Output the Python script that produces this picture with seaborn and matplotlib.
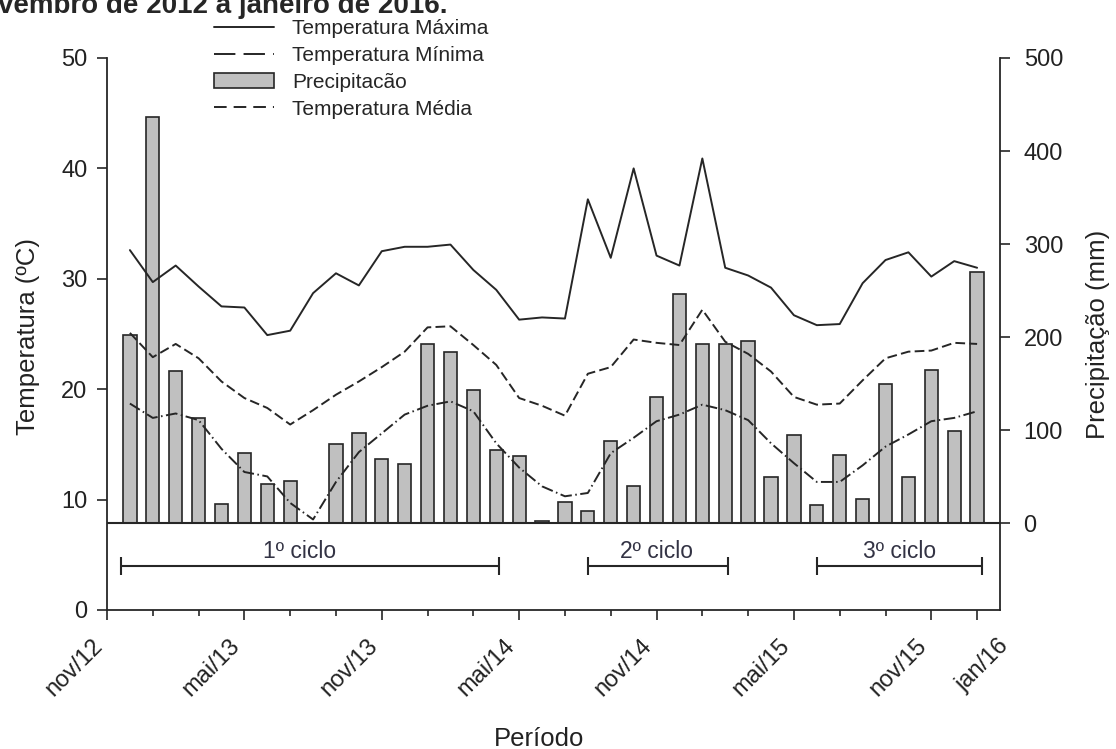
import numpy as np
import pandas as pd
import matplotlib
matplotlib.use("Agg")
import matplotlib.pyplot as plt
import matplotlib.transforms as mtransforms
from matplotlib.patches import Patch
from matplotlib.lines import Line2D
import seaborn as sns

# meses de dez/12 a jan/16 (posicao = meses desde nov/12)
meses = pd.period_range("2012-12", "2016-01", freq="M")
mes = np.arange(1, len(meses) + 1)

precip = [202, 437, 163, 113, 21, 75, 42, 45, 0, 85, 97, 69, 64,
          193, 184, 143, 79, 72, 2, 23, 13, 88, 40, 135, 246,
          192, 193, 196, 50, 95, 19, 73, 26, 149, 49, 165, 99,
          270]
t_max = [32.6, 29.7, 31.2, 29.3, 27.5, 27.4, 24.9, 25.3, 28.7, 30.5, 29.4, 32.5, 32.9,
         32.9, 33.1, 30.8, 29.0, 26.3, 26.5, 26.4, 37.2, 31.9, 40.0, 32.1, 31.2,
         40.9, 31.0, 30.3, 29.2, 26.7, 25.8, 25.9, 29.6, 31.7, 32.4, 30.2, 31.6,
         31.0]
t_med = [25.1, 22.9, 24.1, 22.8, 20.7, 19.2, 18.3, 16.8, 18.1, 19.5, 20.7, 22.0, 23.4,
         25.6, 25.7, 24.0, 22.2, 19.2, 18.5, 17.6, 21.4, 22.0, 24.5, 24.2, 24.0,
         27.2, 24.3, 23.2, 21.6, 19.3, 18.6, 18.7, 20.8, 22.8, 23.4, 23.5, 24.2,
         24.1]
t_min = [18.7, 17.4, 17.8, 17.2, 14.6, 12.5, 12.1, 9.7, 8.2, 11.6, 14.3, 16.0, 17.7,
         18.5, 18.9, 18.0, 15.1, 12.9, 11.2, 10.3, 10.6, 14.2, 15.6, 17.1, 17.7,
         18.6, 18.1, 17.2, 15.1, 13.3, 11.6, 11.6, 13.1, 14.8, 15.9, 17.1, 17.4,
         18.0]

ticks_x = [0, 6, 12, 18, 24, 30, 36, 38]
ticks_lab = ["nov/12", "mai/13", "nov/13", "mai/14", "nov/14", "mai/15", "nov/15", "jan/16"]
ticks_min = [2, 4, 8, 10, 14, 16, 20, 22, 26, 28, 32, 34]

ciclos = ["1º ciclo", "2º ciclo", "3º ciclo"]
ciclo_ini = [0.6, 21.0, 31.0]
ciclo_fim = [17.1, 27.1, 38.2]
ciclo_txt = [8.4, 24.0, 34.6]

df = pd.DataFrame({"mes": mes, "precip": precip,
                   "t_max": t_max, "t_med": t_med, "t_min": t_min})

sns.set_theme(style="ticks")
plt.rcParams["font.family"] = ["Liberation Sans", "DejaVu Sans"]
cor = "#262626"

fig = plt.figure(figsize=(11.16, 7.49), dpi=100)
ax = fig.add_axes([107 / 1116, 1 - 610 / 749, 893 / 1116, 552 / 749])
ax2 = ax.twinx()
ax.set_zorder(ax2.get_zorder() + 1)
ax.patch.set_visible(False)

# precipitacao (eixo direito)
sns.barplot(data=df, x="mes", y="precip", native_scale=True, width=0.58,
            color="#c0c0c0", saturation=1, edgecolor=cor, linewidth=1.2,
            errorbar=None, ax=ax2)
ax2.axhline(0, color=cor, lw=1.5)

# temperaturas (eixo esquerdo)
sns.lineplot(data=df, x="mes", y="t_max", color=cor, lw=1.4, legend=False, ax=ax)
sns.lineplot(data=df, x="mes", y="t_min", color=cor, lw=1.4,
             linestyle=(0, (6, 1.8, 0.8, 1.8)), legend=False, ax=ax)
sns.lineplot(data=df, x="mes", y="t_med", color=cor, lw=1.4,
             linestyle=(0, (5, 2.2)), legend=False, ax=ax)

# ciclos
for nome, a, b, xt in zip(ciclos, ciclo_ini, ciclo_fim, ciclo_txt):
    ax.hlines(4.0, a, b, color=cor, lw=1.5)
    ax.vlines([a, b], 3.2, 4.8, color=cor, lw=1.5)
    ax.text(xt, 4.7, nome, ha="center", va="baseline",
            fontsize=16.5, color="#333344")

ax.set_xlim(0, 39)
ax.set_ylim(0, 50)
ax.set_yticks(range(0, 51, 10))
ax2.set_ylim(-93.5, 500)
ax2.set_yticks(range(0, 501, 100))
ax.set_xticks(ticks_x)
ax.set_xticks(ticks_min, minor=True)
ax.set_xticklabels(ticks_lab, rotation=45, ha="right", va="top")

ax.tick_params(axis="x", which="major", length=7, width=1.2, pad=11,
               labelsize=17, color=cor, labelcolor="#222222")
ax.tick_params(axis="x", which="minor", length=4, width=1.2, color=cor)
ax.tick_params(axis="y", length=7, width=1.2, pad=7, labelsize=17,
               color=cor, labelcolor="#222222")
ax2.tick_params(axis="y", length=7, width=1.2, pad=10, labelsize=17,
                color=cor, labelcolor="#222222")

lab = ax.get_xticklabels()[-1]
lab.set_transform(lab.get_transform() +
                  mtransforms.ScaledTranslation(0.36, 0, fig.dpi_scale_trans))

for s in ["top", "right"]:
    ax.spines[s].set_visible(False)
for s in ["top", "left", "bottom"]:
    ax2.spines[s].set_visible(False)
for a in (ax, ax2):
    for s in a.spines.values():
        s.set_color(cor)
        s.set_linewidth(1.3)
    a.set_xlabel("")
    a.set_ylabel("")
    a.grid(False)

fig.text(28 / 1116, 1 - 336 / 749, "Temperatura (ºC)", rotation=90,
         ha="center", va="center", fontsize=18.5, color="#222222")
fig.text(1098 / 1116, 1 - 334 / 749, "Precipitação (mm)", rotation=90,
         ha="center", va="center", fontsize=18.5, color="#222222")
fig.text(539 / 1116, 1 - 746 / 749, "Período", ha="center", va="baseline",
         fontsize=18.5, color="#222222")
fig.text(-0.002, 1 - 13 / 749, "vembro de 2012 a janeiro de 2016.",
         ha="left", va="baseline", fontsize=20, fontweight="bold")

# legenda (simbolos como no original)
leg_h = [Line2D([], [], color=cor, lw=1.4),
         Line2D([], [], color=cor, lw=1.4, linestyle=(0, (11, 4.2))),
         Patch(facecolor="#c0c0c0", edgecolor=cor, linewidth=1.2),
         Line2D([], [], color=cor, lw=1.4, linestyle=(0, (6.5, 3.6)))]
leg_l = ["Temperatura Máxima", "Temperatura Mínima", "Precipitacão", "Temperatura Média"]
fig.legend(leg_h, leg_l, loc="upper left", bbox_to_anchor=(214 / 1116, 1 - 19 / 749),
           frameon=False, fontsize=15, handlelength=2.9, handletextpad=0.85,
           labelspacing=0.38, borderpad=0, borderaxespad=0)

fig.savefig("out.png", dpi=100)
